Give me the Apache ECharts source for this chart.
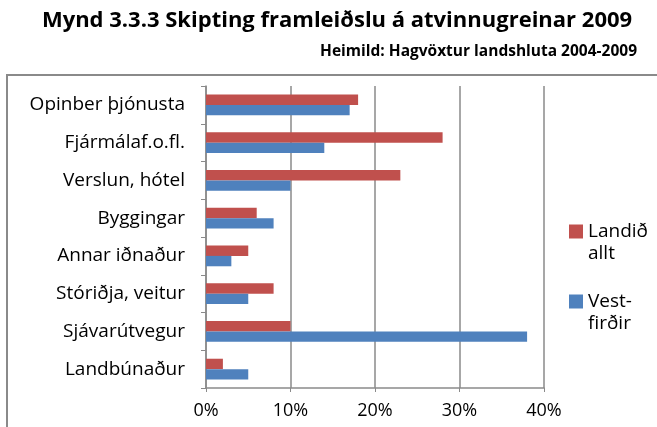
<!DOCTYPE html>
<html>
<head>
<meta charset="utf-8">
<script src="https://cdn.jsdelivr.net/npm/echarts@6/dist/echarts.min.js"></script>
<style>
html,body{margin:0;padding:0;background:#fff;}
#c{width:657px;height:427px;}
</style>
</head>
<body>
<div id="c"></div>
<script>
// Categories listed bottom to top
const categories = ['Landbúnaður','Sjávarútvegur','Stóriðja, veitur','Annar iðnaður','Byggingar','Verslun, hótel','Fjármálaf.o.fl.','Opinber þjónusta'];
const landidAllt = [2, 10, 8, 5, 6, 23, 28, 18];
const vestfirdir = [5, 38, 5, 3, 8, 10, 14, 17];
const xTicks = [0, 10, 20, 30, 40];

const FONT = '"Open Sans", sans-serif';
const chart = echarts.init(document.getElementById('c'), null, {renderer:'canvas'});
chart.setOption({
  animation: false,
  backgroundColor: '#fff',
  title: [
    {text: 'Mynd 3.3.3 Skipting framleiðslu á atvinnugreinar 2009', left: 332, top: 5, textAlign: 'center',
     textStyle: {fontFamily: FONT, fontWeight: 'bold', fontSize: 22, color: '#000'}},
    {text: 'Heimild: Hagvöxtur landshluta 2004-2009', right: 15, top: 39,
     textStyle: {fontFamily: FONT, fontWeight: 'bold', fontSize: 15.5, color: '#000'}}
  ],
  graphic: [
    {type: 'rect', shape: {x: 7, y: 75, width: 700, height: 400}, style: {fill: 'none', stroke: '#8a8a8a', lineWidth: 2}, z: -1},
    {type: 'text', x: 588, y: 254, style: {text: 'allt', font: '19px ' + FONT, fill: '#000', verticalAlign: 'middle'}},
    {type: 'text', x: 588, y: 324, style: {text: 'firðir', font: '19px ' + FONT, fill: '#000', verticalAlign: 'middle'}}
  ],
  legend: {
    orient: 'vertical', left: 564, top: 217, padding: 5,
    itemWidth: 14, itemHeight: 14, itemGap: 51,
    icon: 'rect',
    data: ['Landið allt', 'Vestfirðir'],
    formatter: function(n){ return n === 'Landið allt' ? 'Landið' : 'Vest-'; },
    textStyle: {fontFamily: FONT, fontSize: 19, color: '#000'}
  },
  grid: {left: 206, right: 113, top: 86, bottom: 39, containLabel: false},
  xAxis: {
    type: 'value', min: xTicks[0], max: xTicks[xTicks.length-1], interval: 10,
    axisLine: {show: true, lineStyle: {color: '#8a8a8a', width: 1.5}},
    axisTick: {show: true, length: 4, lineStyle: {color: '#8a8a8a'}},
    axisLabel: {formatter: '{value}%', margin: 14, fontFamily: FONT, fontSize: 18, color: '#000'},
    splitLine: {show: true, lineStyle: {color: '#8a8a8a', width: 1.5}}
  },
  yAxis: {
    type: 'category', data: categories,
    axisLine: {show: true, lineStyle: {color: '#8a8a8a', width: 1.5}},
    axisTick: {show: true, length: 5, inside: false, lineStyle: {color: '#8a8a8a'}},
    axisLabel: {margin: 21, fontFamily: FONT, fontSize: 19, color: '#000'}
  },
  series: [
    {name: 'Landið allt', type: 'bar', data: landidAllt, barWidth: 10.4, barGap: '0%',
     itemStyle: {color: '#C0504D'}},
    {name: 'Vestfirðir', type: 'bar', data: vestfirdir, barWidth: 10.4, barGap: '0%',
     itemStyle: {color: '#4F81BD'}}
  ]
});
</script>
</body>
</html>
